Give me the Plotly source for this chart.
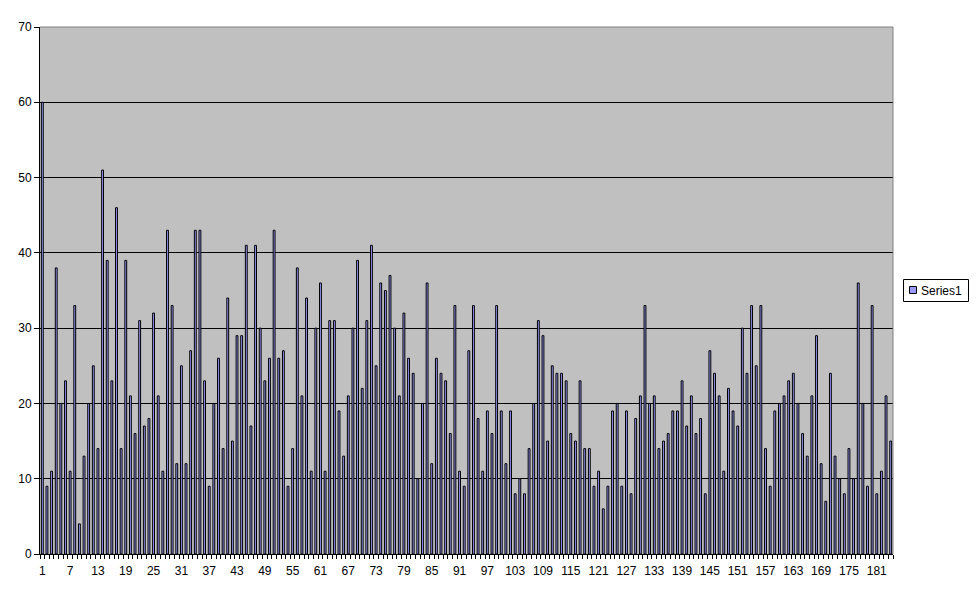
import plotly.graph_objects as go

values_1_47 = [60, 9, 11, 38, 20, 23, 11, 33, 4, 13, 20, 25, 14, 51, 39,
               23, 46, 14, 39, 21, 16, 31, 17, 18, 32, 21, 11, 43, 33, 12, 25,
               12, 27, 43, 43, 23, 9, 20, 26, 14, 34, 15, 29, 29, 41, 17, 41]
values_48_96 = [30, 23, 26, 43, 26, 27, 9, 14, 38, 21, 34, 11, 30, 36, 11, 31, 31,
                19, 13, 21, 30, 39, 22, 31, 41, 25, 36, 35, 37, 30, 21, 32, 26,
                24, 10, 20, 36, 12, 26, 24, 23, 16, 33, 11, 9, 27, 33, 18, 11]
values_97_145 = [19, 16, 33, 19, 12, 19, 8, 10, 8, 14, 20, 31, 29, 15, 25, 24,
                 24, 23, 16, 15, 23, 14, 14, 9, 11, 6, 9, 19, 20, 9, 19, 8,
                 18, 21, 33, 20, 21, 14, 15, 16, 19, 19, 23, 17, 21, 16, 18, 8, 27]
values_146_184 = [24, 21, 11, 22, 19, 17, 30, 24, 33, 25, 33, 14, 9, 19, 20, 21,
                  23, 24, 20, 16, 13, 21, 29, 12, 7, 24, 13, 10, 8, 14, 10,
                  36, 20, 9, 33, 8, 11, 21, 15]

values = values_1_47 + values_48_96 + values_97_145 + values_146_184
categories = list(range(1, len(values) + 1))
tick_labels = [c for c in categories if (c - 1) % 6 == 0]
series_name = "Series1"
bar_color = "#9999FF"

fig = go.Figure()
fig.add_trace(go.Bar(
    x=categories, y=values, name=series_name,
    marker=dict(color=bar_color, line=dict(color="black", width=1)),
    showlegend=False,
))

n = len(values)
W, H = 969, 592  # page adds 8px body margin
L, R, T, B = 32, 84, 19, 46
PW, PH = W - L - R, H - T - B


def px(fx):
    return (fx - L) / PW


def py(fy):
    return (T + PH - fy) / PH


fig.update_layout(
    width=W, height=H,
    margin=dict(l=L, r=R, t=T, b=B, autoexpand=False),
    paper_bgcolor="white",
    plot_bgcolor="#C0C0C0",
    bargap=0.6,
    font=dict(family="Liberation Sans, Arial, sans-serif", size=12, color="black"),
    showlegend=False,
    xaxis=dict(
        range=[0.5, n + 0.5], tickmode="array", tickvals=tick_labels,
        ticktext=[str(t) for t in tick_labels],
        ticks="", showgrid=False, zeroline=False, automargin=False,
        showline=True, linecolor="black", linewidth=1,
        minor=dict(tickvals=[c + 0.5 for c in range(0, n + 1)], ticks="outside",
                   ticklen=4, tickcolor="black", tickwidth=1, showgrid=False),
        tickfont=dict(size=12), ticklabelstandoff=6,
    ),
    yaxis=dict(
        range=[0, 70], dtick=10, tick0=0, automargin=False,
        showgrid=True, gridcolor="black", gridwidth=1,
        zeroline=False, showline=True, linecolor="black", linewidth=1,
        ticks="outside", ticklen=5, tickcolor="black",
        tickfont=dict(size=12),
    ),
)
# plot area border top/right (gray)
fig.add_shape(type="line", xref="x domain", yref="y domain", x0=0, x1=1, y0=1, y1=1,
              line=dict(color="#808080", width=1))
fig.add_shape(type="line", xref="x domain", yref="y domain", x0=1, x1=1, y0=0, y1=1,
              line=dict(color="#808080", width=1))

# legend box (Excel style)
fig.add_shape(type="rect", xref="paper", yref="paper",
              x0=px(895.5), x1=px(960.5), y0=py(293.5), y1=py(271.5),
              line=dict(color="black", width=1), fillcolor="white")
fig.add_shape(type="rect", xref="paper", yref="paper",
              x0=px(901.5), x1=px(908.5), y0=py(285.5), y1=py(278.5),
              line=dict(color="black", width=1), fillcolor=bar_color)
fig.add_annotation(xref="paper", yref="paper", x=px(911), y=py(282.5),
                   xanchor="left", yanchor="middle", showarrow=False,
                   text=series_name, font=dict(size=12, color="black"))

fig.write_html("out.html")
